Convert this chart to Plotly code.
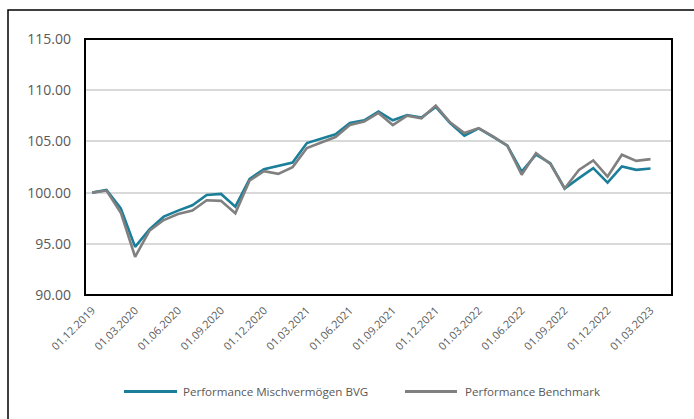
import plotly.graph_objects as go

months = ["01.12.2019", "01.01.2020", "01.02.2020", "01.03.2020", "01.04.2020", "01.05.2020",
          "01.06.2020", "01.07.2020", "01.08.2020", "01.09.2020", "01.10.2020", "01.11.2020",
          "01.12.2020", "01.01.2021", "01.02.2021", "01.03.2021", "01.04.2021", "01.05.2021",
          "01.06.2021", "01.07.2021", "01.08.2021", "01.09.2021", "01.10.2021", "01.11.2021",
          "01.12.2021", "01.01.2022", "01.02.2022", "01.03.2022", "01.04.2022", "01.05.2022",
          "01.06.2022", "01.07.2022", "01.08.2022", "01.09.2022", "01.10.2022", "01.11.2022",
          "01.12.2022", "01.01.2023", "01.02.2023", "01.03.2023"]

fund = [100.0, 100.26, 98.47, 94.7, 96.41, 97.65, 98.24, 98.76, 99.77, 99.87,
        98.63, 101.34, 102.29, 102.62, 102.94, 104.84, 105.29, 105.69, 106.8, 107.06,
        107.91, 107.06, 107.58, 107.32, 108.37, 106.8, 105.56, 106.27, 105.43, 104.58,
        102.06, 103.7, 102.88, 100.4, 101.41, 102.39, 100.98, 102.55, 102.22, 102.35]

bench = [100.0, 100.2, 98.04, 93.73, 96.27, 97.32, 97.9, 98.24, 99.25, 99.19,
         97.98, 101.18, 102.1, 101.83, 102.49, 104.35, 104.9, 105.43, 106.6, 106.93,
         107.78, 106.6, 107.52, 107.26, 108.5, 106.86, 105.82, 106.3, 105.49, 104.58,
         101.74, 103.86, 102.8, 100.4, 102.22, 103.14, 101.57, 103.7, 103.1, 103.27]

series_names = ["Performance Mischvermögen BVG", "Performance Benchmark"]
tick_labels = months[::3]
y_ticks = [90, 95, 100, 105, 110, 115]

TEAL = "#1b7f9a"
GREY = "#808080"
TEXT = "#595959"
FONT = "Open Sans"

W, H = 694, 419
ML, MR, MT, MB = 85, 22, 39, 124
PW, PH = W - ML - MR, H - MT - MB


def px(x):
    return (x - ML) / PW


def py(y):
    return (H - MB - y) / PH


fig = go.Figure()
fig.add_trace(go.Scatter(x=months, y=fund, mode="lines", name=series_names[0],
                         line=dict(color=TEAL, width=2.6)))
fig.add_trace(go.Scatter(x=months, y=bench, mode="lines", name=series_names[1],
                         line=dict(color=GREY, width=2.6)))

# custom legend (line sample + label), laid out like the original
legend_items = [(series_names[0], TEAL, 124, 177, 181), (series_names[1], GREY, 405, 457, 463)]
shapes = [
    dict(type="rect", xref="paper", yref="paper", x0=0, x1=1, y0=0, y1=1,
         line=dict(color="black", width=2), layer="above"),
    dict(type="rect", xref="paper", yref="paper", x0=px(8), x1=px(W + 20), y0=py(H + 20), y1=py(10),
         line=dict(color="black", width=1.5), layer="above"),
]
annotations = []
LEG_Y = 391.5
for name, col, x0, x1, xt in legend_items:
    shapes.append(dict(type="line", xref="paper", yref="paper", x0=px(x0), x1=px(x1),
                       y0=py(LEG_Y), y1=py(LEG_Y), line=dict(color=col, width=3)))
    annotations.append(dict(text=name, xref="paper", yref="paper", x=px(xt), y=py(LEG_Y),
                            xanchor="left", yanchor="middle", showarrow=False,
                            font=dict(size=11.6, color=TEXT, family=FONT)))

fig.update_layout(
    width=W, height=H,
    margin=dict(l=ML, r=MR, t=MT, b=MB),
    paper_bgcolor="white", plot_bgcolor="white",
    font=dict(family=FONT, color=TEXT),
    showlegend=False,
    xaxis=dict(type="category", range=[-0.5, len(months) + 0.5],
               tickmode="array", tickvals=tick_labels, ticktext=tick_labels,
               tickangle=-45, tickfont=dict(size=11, color=TEXT),
               showgrid=False, zeroline=False, showline=False, ticks="",
               ticklabelstandoff=6),
    yaxis=dict(range=[90, 115], tickmode="array", tickvals=y_ticks,
               tickformat=".2f", tickfont=dict(size=14, color=TEXT),
               showgrid=True, gridcolor="#d9d9d9", gridwidth=1.5,
               zeroline=False, showline=False, ticks="", ticklabelstandoff=13),
    shapes=shapes,
    annotations=annotations,
)

fig.write_html("out.html", config={"displayModeBar": False},
               post_script="document.body.style.margin='0';document.body.style.padding='0';")
